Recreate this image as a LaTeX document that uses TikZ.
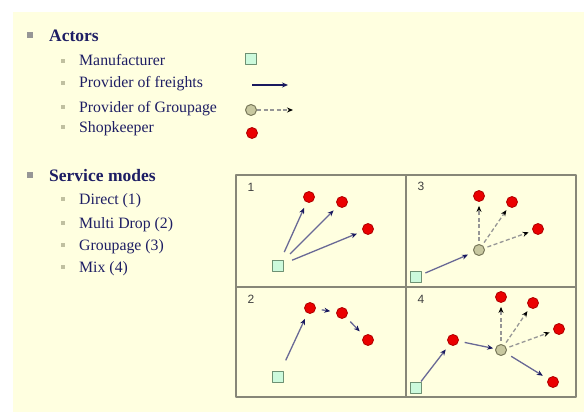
\documentclass[tikz,border=0pt]{standalone}
\usepackage{fontspec}
\setmainfont{Liberation Serif}
\setsansfont{Liberation Sans}
\usetikzlibrary{arrows.meta}
\usetikzlibrary{positioning}
\definecolor{bg1}{RGB}{255,255,224}
\definecolor{navy1}{RGB}{30,30,100}
\definecolor{gray1}{RGB}{150,150,150}
\definecolor{olive1}{RGB}{192,192,160}
\definecolor{green1}{RGB}{204,250,220}
\definecolor{green2}{RGB}{110,145,115}
\definecolor{red1}{RGB}{235,0,0}
\definecolor{red2}{RGB}{175,0,0}
\definecolor{khaki1}{RGB}{200,200,160}
\definecolor{khaki2}{RGB}{120,120,90}
\definecolor{blue1}{RGB}{105,105,150}
\definecolor{blue2}{RGB}{25,25,95}
\definecolor{frame1}{RGB}{135,135,120}

\begin{document}
\begin{tikzpicture}[x=1pt,y=-1pt]
	\begin{scope}[line join=round, font=\fontsize{15.8}{15.8}\selectfont,
		bigbullet/.style={rectangle, fill=gray1, minimum size=6pt, inner sep=0pt},
		subbullet/.style={rectangle, fill=olive1, minimum size=4.5pt, inner sep=0pt},
		head/.style={text=navy1, font=\fontsize{17.5}{17.5}\selectfont\bfseries, inner sep=0pt},
		item/.style={text=navy1, inner sep=0pt},
		maker/.style={rectangle, draw=green2, fill=green1, line width=1pt, minimum size=10.5pt, inner sep=0pt},
		shop/.style={circle, draw=red2, fill=red1, line width=0.8pt, minimum size=11pt, inner sep=0pt},
		hub/.style={circle, draw=khaki2, fill=khaki1, line width=1pt, minimum size=11pt, inner sep=0pt},
		freight/.style={draw=blue1, line width=1.3pt, -{Stealth[length=6pt,width=5pt,color=blue2]}, shorten <=6pt, shorten >=6pt},
		groupage/.style={draw=gray1, line width=1.3pt, dash pattern=on 4pt off 2.5pt, -{Stealth[length=6pt,width=5pt,color=black]}, shorten <=3pt, shorten >=4pt},
		panelno/.style={font=\sffamily\fontsize{12}{12}\selectfont, text=black!75},
		panel/.style={draw=frame1, line width=1.5pt}]

	\useasboundingbox (0,0) rectangle (584,412);
	\fill[bg1] (13,12) rectangle (584,412);

% actors
\node[bigbullet] (ba) at (29.5,35) {};
\node[head, anchor=base west] (actors) at (49,42) {Actors};
\foreach \y/\t [count=\i] in {61/Manufacturer,83/Provider of freights,107/Provider of Groupage,127/Shopkeeper}
{
	\node[subbullet] (sa\i) at (63,\y) {};
	\node[item, anchor=base west] (ia\i) at (79,\y+5) {\t};
}

% service modes
\node[bigbullet] (bs) at (29.5,174.5) {};
\node[head, anchor=base west] (modes) at (49,181.5) {Service modes};
\foreach \y/\t [count=\i] in {199/Direct (1),223/Multi Drop (2),245/Groupage (3),267/Mix (4)}
{
	\node[subbullet] (ss\i) at (63,\y) {};
	\node[item, anchor=base west] (is\i) at (79,\y+5) {\t};
}

% legend
\node[maker] (lgm) at (251,59) {};
\coordinate (lgf1) at (252,85);
\coordinate (lgf2) at (288,85);
\draw[freight, draw=blue2, line width=1.2pt, shorten <=0pt, shorten >=0pt] (lgf1) -- (lgf2);
\node[hub] (lgh) at (251,110) {};
\coordinate (lgh2) at (293,110);
\draw[groupage, shorten <=0pt, shorten >=0pt] (lgh) -- (lgh2);
\node[shop] (lgs) at (252,133) {};

% panels
\draw[panel] (236,175) rectangle (576,397);
\draw[panel] (406,175) -- (406,397);
\draw[panel] (236,287) -- (576,287);

% 1
\node[panelno] (n1) at (251,187) {1};
\node[maker] (m1) at (278,266) {};
\node[shop] (s1a) at (309,197) {};
\node[shop] (s1b) at (342,202) {};
\node[shop] (s1c) at (368,229) {};
\foreach \s in {s1a,s1b,s1c}
	\draw[freight, shorten <=9pt] (m1) -- (\s);

% 3
\node[panelno] (n3) at (421,186) {3};
\node[maker] (m3) at (416,277) {};
\node[hub] (h3) at (479,250) {};
\node[shop] (s3a) at (479,196) {};
\node[shop] (s3b) at (512,202) {};
\node[shop] (s3c) at (538,229) {};
\draw[freight, shorten <=4pt] (m3) -- (h3);
\foreach \s in {s3a,s3b,s3c}
	\draw[groupage] (h3) -- (\s);

% 2
\node[panelno] (n2) at (251,299) {2};
\node[maker] (m2) at (278,377) {};
\node[shop] (s2a) at (310,308) {};
\node[shop] (s2b) at (342,313) {};
\node[shop] (s2c) at (368,340) {};
\draw[freight, shorten <=12pt] (m2) -- (s2a);
\draw[freight] (s2a) -- (s2b);
\draw[freight] (s2b) -- (s2c);

% 4
\node[panelno] (n4) at (421,299) {4};
\node[maker] (m4) at (416,388) {};
\node[shop] (s4a) at (453,340) {};
\node[hub] (h4) at (501,350) {};
\node[shop] (s4b) at (501,297) {};
\node[shop] (s4c) at (533,303) {};
\node[shop] (s4d) at (559,329) {};
\node[shop] (s4e) at (553,382) {};
\draw[freight, shorten <=1pt] (m4) -- (s4a);
\draw[freight, shorten >=2pt] (s4a) -- (h4);
\foreach \s in {s4b,s4c,s4d}
	\draw[groupage] (h4) -- (\s);
\draw[freight] (h4) -- (s4e);

	\end{scope}
\end{tikzpicture}
\end{document}
